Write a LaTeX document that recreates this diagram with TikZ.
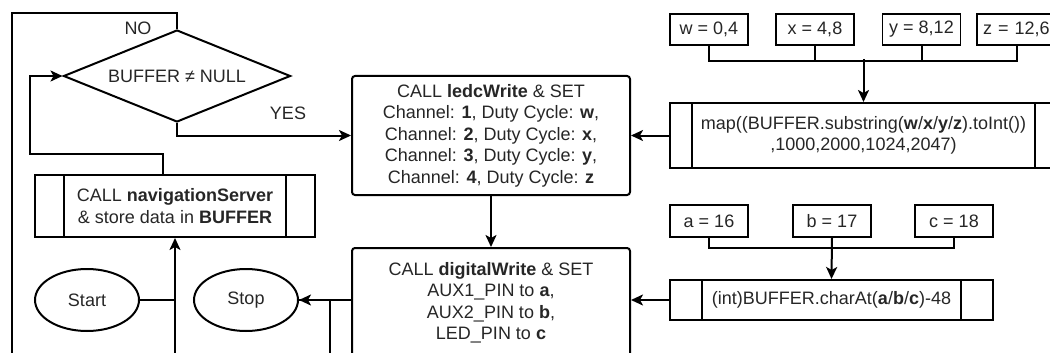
\documentclass[tikz,border=0pt]{standalone}
\usepackage{fontspec}
\setmainfont{Liberation Sans}
\usetikzlibrary{calc}
\usetikzlibrary{arrows.meta}
\usetikzlibrary{shapes.geometric}

\tikzset{
  box/.style={rectangle, draw=black, rounded corners=3pt, align=center, minimum width=278pt},
  sub/.style={rectangle, draw=black, align=center, inner sep=0pt,
    path picture={\draw [line width=2pt] ([xshift=#1]path picture bounding box.north west) -- ([xshift=#1]path picture bounding box.south west)
      ([xshift=-#1]path picture bounding box.north east) -- ([xshift=-#1]path picture bounding box.south east);}},
  sub/.default=29pt,
  val/.style={rectangle, draw=black, line width=1.5pt, minimum width=78pt, minimum height=31pt, inner sep=0pt},
  term/.style={ellipse, draw=black, minimum width=104pt, minimum height=62pt},
  arr/.style={-{Stealth[length=12pt, width=11pt, inset=3pt]}}
}

\begin{document}
\begin{tikzpicture}[x=1pt, y=-1pt, line width=2pt, text=black!85, font=\fontsize{18}{21.5}\selectfont]
\useasboundingbox (0,0) rectangle (1050,353);
\clip (0,0) rectangle (1050,353);

% left column
\node [diamond, aspect=2.47, draw=black, minimum width=227pt, minimum height=92pt, inner sep=0pt] (dec) at (177,76) {BUFFER ≠ NULL};
\node [sub, minimum width=280pt, minimum height=62pt] (nav) at (175,206) {CALL \textbf{navigationServer}\\\& store data in \textbf{BUFFER}};
\node [term] (start) at (87,300) {Start};
\node [term] (stop) at (246,300) {Stop};
\node (no) at (138,28) {NO};
\node (yes) at (288,113) {YES};

% middle column
\node [box, minimum height=119pt] (ledc) at (491,135.5) {CALL \textbf{ledcWrite} \& SET\\Channel: \textbf{1}, Duty Cycle: \textbf{w},\\Channel: \textbf{2}, Duty Cycle: \textbf{x},\\Channel: \textbf{3}, Duty Cycle: \textbf{y},\\Channel: \textbf{4}, Duty Cycle: \textbf{z}};
\node [box, minimum height=110pt] (dig) at (491,303) {CALL \textbf{digitalWrite} \& SET\\AUX1\_PIN to \textbf{a},\\AUX2\_PIN to \textbf{b},\\LED\_PIN to \textbf{c}};

% right column
\node [val] (vw) at (709,29.5) {w = 0,4};
\node [val] (vx) at (815,29.5) {x = 4,8};
\node [val] (vy) at (921.5,29.5) {y = 8,12};
\node [val, text width=68pt, inner xsep=6pt, align=left] (vz) at (1017,29.5) {z = 12,6};
\node [sub=22pt, minimum width=387pt, minimum height=65pt] (map) at (863.5,135.5) {map((BUFFER.substring(\textbf{w}/\textbf{x}/\textbf{y}/\textbf{z}).toInt())\\,1000,2000,1024,2047)};
\node [val, minimum height=32pt] (pa) at (709,221) {a = 16};
\node [val, minimum height=32pt] (pb) at (832,221) {b = 17};
\node [val, minimum height=32pt] (pc) at (954,221) {c = 18};
\node [sub=32pt, minimum width=323pt, minimum height=40pt] (chr) at (831.5,300) {(int)BUFFER.charAt(\textbf{a}/\textbf{b}/\textbf{c})-48};

% free ends below the frame
\coordinate (noend) at (12,360);
\coordinate (navin) at (175,360);
\coordinate (stopin) at (330,360);

% connectors
\draw (dec.north) -- ++(0,-16) -| (noend);
\draw [arr] (dec.south) |- (ledc.west);
\draw [arr] ([xshift=-12pt]nav.north) |- (30,154) |- (dec.west);
\draw (start.east) -- (start.east -| navin);
\draw [arr] (navin) -- (nav.south);
\draw [arr] (stop.east -| dig.west) -- (stop.east);
\draw (stopin) |- (stop.east);
\draw [arr] (ledc.south) -- (dig.north);
\draw [arr] (map.west) -- (ledc.east);
\draw [arr] (chr.west) -- (chr.west -| dig.east);
\draw (vw.south) -- ++(0,15) -| (vz.south);
\draw (vx.south) -- ++(0,15);
\draw (vy.south) -- ++(0,15);
\draw [arr] ([yshift=43pt]map.north) -- (map.north);
\draw (pa.south) -- ++(0,10) -| (pc.south);
\draw [arr] (pb.south) -- (chr.north);
\end{tikzpicture}
\end{document}
